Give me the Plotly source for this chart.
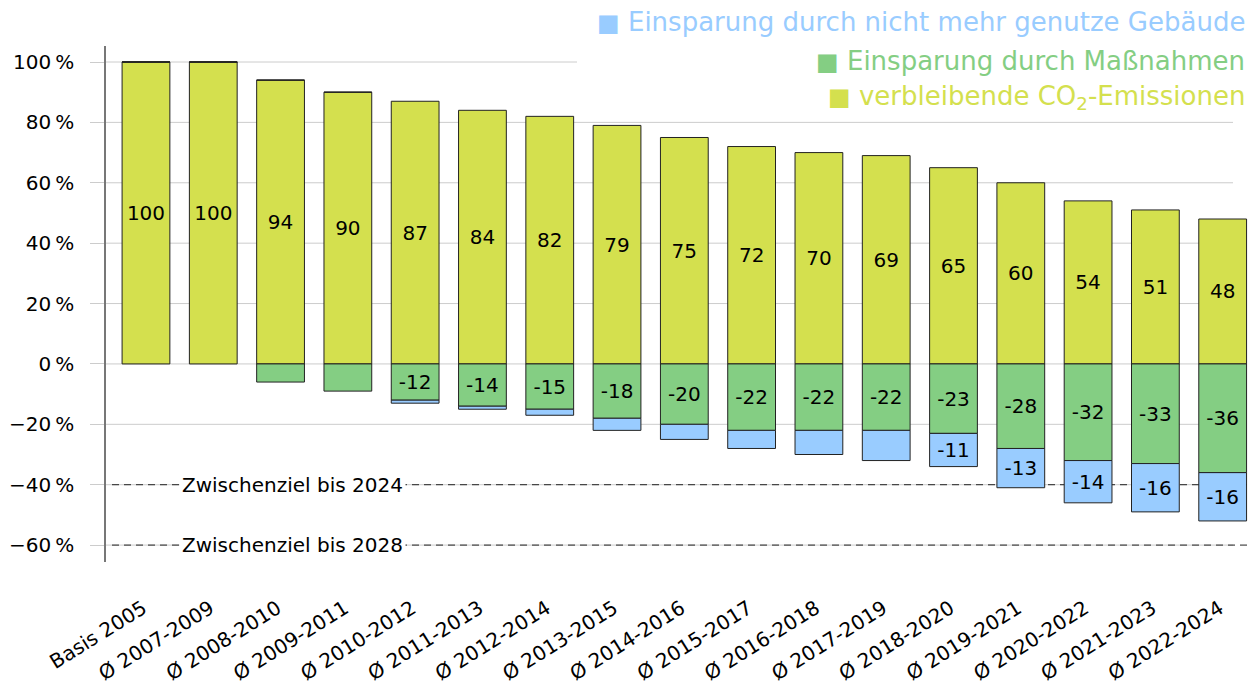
import plotly.graph_objects as go

categories = ["Basis 2005", "Ø 2007-2009", "Ø 2008-2010", "Ø 2009-2011", "Ø 2010-2012",
              "Ø 2011-2013", "Ø 2012-2014", "Ø 2013-2015", "Ø 2014-2016", "Ø 2015-2017",
              "Ø 2016-2018", "Ø 2017-2019", "Ø 2018-2020", "Ø 2019-2021", "Ø 2020-2022",
              "Ø 2021-2023", "Ø 2022-2024"]
remaining = [100, 100, 94, 90, 87, 84, 82, 79, 75, 72, 70, 69, 65, 60, 54, 51, 48]
measures = [0, 0, -6, -9, -12, -14, -15, -18, -20, -22, -22, -22, -23, -28, -32, -33, -36]
unused = [0, 0, 0, 0, -1, -1, -2, -4, -5, -6, -8, -10, -11, -13, -14, -16, -16]

y_ticks = [100, 80, 60, 40, 20, 0, -20, -40, -60]
y_ticktext = [("−" if v < 0 else "") + f"{abs(v)}\u2009%" for v in y_ticks]
targets = [(-40, "Zwischenziel bis 2024"), (-60, "Zwischenziel bis 2028")]

legend_items = [("Einsparung durch nicht mehr genutze Gebäude", "#99CCFF"),
                ("Einsparung durch Maßnahmen", "#84CE83"),
                ("verbleibende CO<sub>2</sub>-Emissionen", "#D4E04E")]

FONT = "DejaVu Sans"
OFF = 8  # page body margin
W, H = 1257 - OFF, 684 - OFF
ML, MR, MT, MB = 106 - OFF, 7, 46 - OFF, 684 - 562
pw = W - ML - MR
ph = H - MT - MB


def xp(px):
    return (px - OFF - ML) / pw


def yp(py):
    return (H - MB - (py - OFF)) / ph


def lbl(vals):
    return [str(v) if abs(v) > 10 else "" for v in vals]


line = dict(color="#222222", width=1)
common = dict(x=categories, width=0.71, textposition="inside", insidetextanchor="middle",
              textangle=0, textfont=dict(size=20, color="black", family=FONT),
              constraintext="none", showlegend=False, hoverinfo="x+y")

fig = go.Figure()
fig.add_trace(go.Bar(y=remaining, text=lbl(remaining), marker=dict(color="#D4E04E", line=line), **common))
fig.add_trace(go.Bar(y=measures, text=lbl(measures), marker=dict(color="#84CE83", line=line), **common))
fig.add_trace(go.Bar(y=unused, text=lbl(unused), marker=dict(color="#99CCFF", line=line), **common))

shapes = []
for v in y_ticks:
    x1 = xp(577) if v == 100 else xp(1233)
    shapes.append(dict(type="line", xref="paper", yref="y", x0=0, x1=x1, y0=v, y1=v,
                       line=dict(color="#CCCCCC", width=1), layer="below"))
annotations = []
for v, t in targets:
    shapes.append(dict(type="line", xref="paper", yref="y", x0=xp(112), x1=xp(1247), y0=v, y1=v,
                       line=dict(color="#222222", width=1, dash="7px,5px"), layer="below"))
    annotations.append(dict(x=xp(292), y=v, xref="paper", yref="y", text=t, showarrow=False,
                            font=dict(size=20, color="black", family=FONT), bgcolor="white",
                            xanchor="center", yanchor="middle", borderpad=2))

leg_y = [22, 61, 98]
for (t, c), ypx in zip(legend_items, leg_y):
    annotations.append(dict(x=xp(1247), y=yp(ypx), xref="paper", yref="paper",
                            text="<span style='font-size:24px'>■</span> " + t, showarrow=False,
                            xanchor="right", yanchor="middle",
                            font=dict(size=26, color=c, family=FONT)))

fig.update_layout(
    width=W, height=H, margin=dict(l=ML, r=MR, t=MT, b=MB, autoexpand=False),
    plot_bgcolor="white", paper_bgcolor="white", barmode="relative",
    font=dict(family=FONT, size=20, color="black"),
    shapes=shapes, annotations=annotations,
    xaxis=dict(range=[-0.594, 16.406], showgrid=False, showline=False, ticks="",
               tickangle=-32, tickfont=dict(size=20, family=FONT), zeroline=False,
               automargin=False, ticklabelstandoff=30, ticklabelshift=-3),
    yaxis=dict(range=[-65.6, 105.3], tickvals=y_ticks, ticktext=y_ticktext, showgrid=False,
               zeroline=False, showline=True, linecolor="#777777", linewidth=1.5,
               ticks="outside", ticklen=14, tickcolor="#CCCCCC", tickwidth=1,
               ticklabelstandoff=12, tickfont=dict(size=20, family=FONT), automargin=False),
)

fig.write_html("out.html")
